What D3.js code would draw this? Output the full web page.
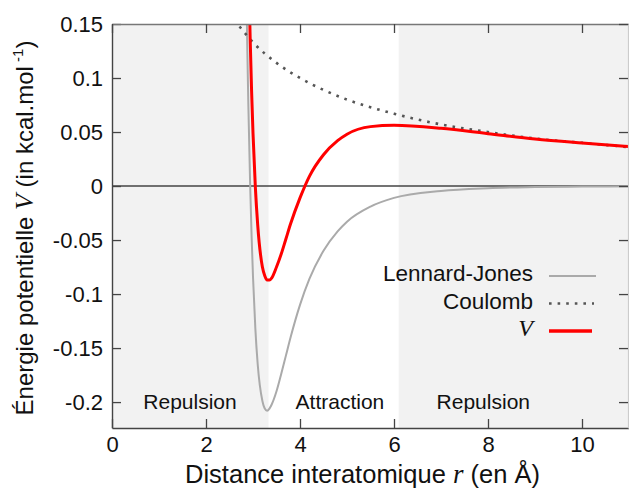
<!DOCTYPE html>
<html>
<head>
<meta charset="utf-8">
<script src="https://cdn.jsdelivr.net/npm/d3@7"></script>
<style>
  body { margin: 0; background: #fff; }
  svg { display: block; }
  text { font-family: "Liberation Sans", Arial, sans-serif; fill: #111; }
  .math { font-family: "Liberation Serif", "DejaVu Serif", serif; font-style: italic; }
</style>
</head>
<body>
<div id="chart"></div>
<script>
// chart size
var svgWidth = 629;
var svgHeight = 488;

var margin = { top: 24, right: 0, bottom: 60, left: 112 };
var width = svgWidth - margin.left - margin.right;
var height = svgHeight - margin.top - margin.bottom;

// distances (Å) shared by Lennard-Jones and V
var rValues = [2.8, 2.86, 2.88, 2.9, 2.94, 2.97, 3.0, 3.05, 3.1, 3.2, 3.25, 3.3, 3.35, 3.4, 3.5,
  3.6, 3.7, 3.8, 4.0, 4.2, 4.5, 4.8, 5.0, 5.5, 6.0, 7.0, 8.0, 9.0, 10.0, 11.0];
var ljValues = [0.379, 0.177, 0.124, 0.077, 0.0, -0.046, -0.084, -0.132, -0.165, -0.199, -0.206, -0.208, -0.206, -0.202, -0.190,
  -0.174, -0.157, -0.140, -0.110, -0.086, -0.060, -0.042, -0.033, -0.019, -0.011, -0.0045, -0.002, -0.001, -0.0005, -0.0003];
var vValues = [0.522, 0.317, 0.263, 0.215, 0.136, 0.088, 0.049, -0.001, -0.036, -0.075, -0.083, -0.087, -0.087, -0.085, -0.075,
  -0.063, -0.049, -0.035, -0.011, 0.009, 0.029, 0.042, 0.048, 0.055, 0.0562, 0.0535, 0.0485, 0.0435, 0.0398, 0.0365];

// Coulomb term
var rCoulomb = [2.6, 2.8, 3.0, 3.5, 4.0, 4.5, 5.0, 6.0, 7.0, 8.0, 9.0, 10.0, 11.0];
var coulombValues = [0.154, 0.143, 0.133, 0.114, 0.100, 0.089, 0.080, 0.067, 0.057, 0.050, 0.044, 0.040, 0.036];

// shaded zones and their labels
var zoneStart = [0, 6.1];
var zoneEnd = [3.33, 11];
var zoneLabels = ["Repulsion", "Attraction", "Repulsion"];
var zoneLabelR = [1.66, 4.85, 7.9];

var xTicks = [0, 2, 4, 6, 8, 10];
var yTicks = [-0.2, -0.15, -0.1, -0.05, 0, 0.05, 0.1, 0.15];

var legendNames = ["Lennard-Jones", "Coulomb", "V"];

var svg = d3.select("#chart")
  .append("svg")
  .attr("width", svgWidth)
  .attr("height", svgHeight);

var chartGroup = svg.append("g")
  .attr("transform", `translate(${margin.left}, ${margin.top})`);

var xScale = d3.scaleLinear().domain([0, 11]).range([0, width]);
var yScale = d3.scaleLinear().domain([-0.224, 0.15]).range([height, 0]);

chartGroup.append("clipPath")
  .attr("id", "plotClip")
  .append("rect")
  .attr("width", width)
  .attr("height", height);

// grey background zones
chartGroup.selectAll(".zone")
  .data(zoneStart)
  .enter()
  .append("rect")
  .attr("x", (d, i) => xScale(d))
  .attr("y", 0)
  .attr("width", (d, i) => xScale(zoneEnd[i]) - xScale(d))
  .attr("height", height)
  .attr("fill", "#f2f2f2");

// zero line
chartGroup.append("line")
  .attr("x1", 0)
  .attr("x2", width)
  .attr("y1", yScale(0))
  .attr("y2", yScale(0))
  .attr("stroke", "#444")
  .attr("stroke-width", 1.4);

// zone labels
chartGroup.selectAll(".zoneLabel")
  .data(zoneLabels)
  .enter()
  .append("text")
  .attr("x", (d, i) => xScale(zoneLabelR[i]))
  .attr("y", yScale(-0.2) + 7)
  .attr("text-anchor", "middle")
  .attr("font-size", 21)
  .text(d => d);

// curves
var curveLine = d3.line()
  .x(d => xScale(d[0]))
  .y(d => yScale(d[1]))
  .curve(d3.curveMonotoneX);

var plot = chartGroup.append("g").attr("clip-path", "url(#plotClip)");

plot.append("path")
  .attr("d", curveLine(rValues.map((r, i) => [r, ljValues[i]])))
  .attr("fill", "none")
  .attr("stroke", "#aaa")
  .attr("stroke-width", 2);

plot.append("path")
  .attr("d", curveLine(rCoulomb.map((r, i) => [r, coulombValues[i]])))
  .attr("fill", "none")
  .attr("stroke", "#555")
  .attr("stroke-width", 2.6)
  .attr("stroke-dasharray", "2.6,6");

plot.append("path")
  .attr("d", curveLine(rValues.map((r, i) => [r, vValues[i]])))
  .attr("fill", "none")
  .attr("stroke", "#f00")
  .attr("stroke-width", 3);

// axes, ticks pointing inward
var bottomAxis = d3.axisBottom(xScale).tickValues(xTicks).tickSizeInner(-9).tickSizeOuter(0).tickPadding(8);
var leftAxis = d3.axisLeft(yScale).tickValues(yTicks).tickSizeInner(-9).tickSizeOuter(0).tickPadding(9)
  .tickFormat(d => String(d));
var topAxis = d3.axisTop(xScale).tickValues(xTicks).tickSizeInner(-9).tickSizeOuter(0).tickFormat("");
var rightAxis = d3.axisRight(yScale).tickValues(yTicks).tickSizeInner(-9).tickSizeOuter(0).tickFormat("");

var xAxis = chartGroup.append("g")
  .attr("transform", `translate(0, ${height})`)
  .call(bottomAxis);
var yAxis = chartGroup.append("g").call(leftAxis);
var tAxis = chartGroup.append("g").call(topAxis);
var rAxis = chartGroup.append("g")
  .attr("transform", `translate(${width - 1}, 0)`)
  .call(rightAxis);

[xAxis, yAxis, tAxis, rAxis].forEach(function(ax) {
  ax.selectAll("text").attr("font-size", 22).attr("fill", "#111").style("font-family", "Liberation Sans, Arial, sans-serif");
  ax.selectAll(".tick line").attr("stroke", "#444").attr("stroke-width", 1.3);
});
xAxis.select(".domain").attr("stroke", "#444").attr("stroke-width", 1.4);
yAxis.select(".domain").attr("stroke", "#444").attr("stroke-width", 1.4);
tAxis.select(".domain").attr("stroke", "#777").attr("stroke-width", 1.4);
rAxis.select(".domain").attr("stroke", "#ccc").attr("stroke-width", 1.2);

// legend
var legend = chartGroup.append("g")
  .attr("transform", `translate(${533 - margin.left}, ${281 - margin.top})`);

legend.selectAll(".legendText")
  .data(legendNames)
  .enter()
  .append("text")
  .attr("class", (d, i) => i === 2 ? "math" : null)
  .attr("x", 0)
  .attr("y", (d, i) => i * 27.5)
  .attr("text-anchor", "end")
  .attr("font-size", (d, i) => i === 2 ? 24 : 22.5)
  .text(d => d);

var legendStyles = [
  { color: "#aaa", width: 2, dash: null, len: 47 },
  { color: "#555", width: 2.6, dash: "2.6,6", len: 45 },
  { color: "#f00", width: 3.5, dash: null, len: 43 }
];
legend.selectAll(".legendLine")
  .data(legendStyles)
  .enter()
  .append("line")
  .attr("x1", 16)
  .attr("x2", d => 16 + d.len)
  .attr("y1", (d, i) => i * 27.5 - 5)
  .attr("y2", (d, i) => i * 27.5 - 5)
  .attr("stroke", d => d.color)
  .attr("stroke-width", d => d.width)
  .attr("stroke-dasharray", d => d.dash);

// axis titles
var xTitle = svg.append("text")
  .attr("x", margin.left + width / 2 - 8)
  .attr("y", 483)
  .attr("text-anchor", "middle")
  .attr("font-size", 25.5);
xTitle.append("tspan").text("Distance interatomique ");
xTitle.append("tspan").attr("class", "math").attr("font-size", 27).text("r");
xTitle.append("tspan").text(" (en Å)");

var yTitle = svg.append("text")
  .attr("transform", `translate(33, ${margin.top + height / 2 + 2}) rotate(-90)`)
  .attr("text-anchor", "middle")
  .attr("font-size", 24);
yTitle.append("tspan").text("Énergie potentielle ");
yTitle.append("tspan").attr("class", "math").attr("font-size", 26).text("V");
yTitle.append("tspan").text(" (in kcal.mol");
yTitle.append("tspan").attr("font-size", 15).attr("dy", -10).text(" -1");
yTitle.append("tspan").attr("dy", 10).text(")");
</script>
</body>
</html>
